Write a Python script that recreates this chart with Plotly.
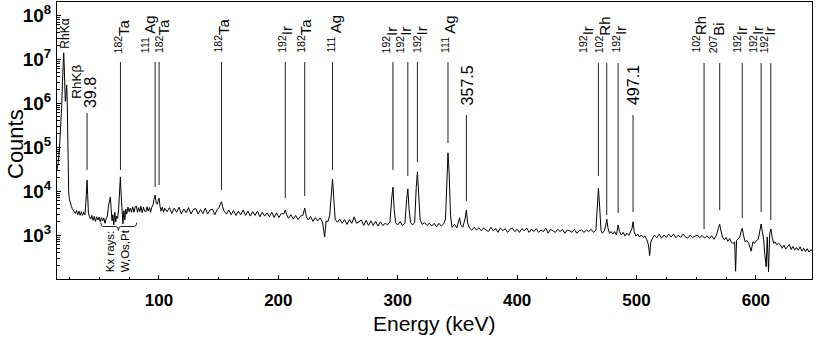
import plotly.graph_objects as go

# ---------------- spectrum ----------------
energy_kev = [
    14.5, 15.5, 16.5, 17.5, 18.5, 19.2, 19.7, 20.2, 20.6, 21.0,
    21.5, 21.9, 22.3, 22.7, 23.1, 23.5, 23.9, 24.4, 25.0, 25.8,
    26.6, 27.4, 28.2, 29.0, 30.0, 31.0, 32.0, 33.0, 34.0, 35.0,
    36.0, 37.0, 38.0, 38.8, 39.4, 39.8, 40.3, 40.9, 41.8, 42.8,
    43.8, 44.8, 45.8, 46.8, 47.8, 48.8, 49.8, 50.8, 51.8, 52.8,
    53.8, 54.8, 55.8, 56.8, 57.8, 58.6, 59.3, 60.0, 60.7, 61.4,
    62.2, 63.0, 63.8, 64.6, 65.4, 66.2, 67.0, 67.7, 68.4, 69.1,
    69.8, 70.6, 71.4, 72.2, 73.0, 74.0, 75.0, 76.0, 77.0, 78.0,
    79.0, 80.0, 81.0, 82.0, 83.0, 84.0, 85.0, 86.0, 87.0, 88.0,
    89.0, 90.0, 91.0, 92.0, 93.0, 94.0, 95.0, 95.8, 96.8, 97.6,
    98.5, 99.3, 100.1, 100.9, 101.8, 102.8, 103.8, 104.8, 106.8, 108.8,
    110.8, 112.8, 114.8, 116.8, 118.8, 120.8, 122.8, 124.8, 126.8, 128.8,
    130.8, 132.8, 134.8, 136.8, 138.8, 140.8, 142.8, 144.8, 146.8, 148.8,
    150.5, 151.5, 152.4, 153.3, 154.5, 156.5, 158.5, 160.5, 162.5, 164.5,
    166.5, 168.5, 170.5, 172.5, 174.5, 176.5, 178.5, 180.5, 182.5, 184.5,
    186.5, 188.5, 190.5, 192.5, 194.5, 196.5, 198.5, 200.5, 202.5, 204.5,
    205.8, 207.0, 208.5, 210.5, 212.5, 214.5, 216.5, 218.5, 220.5, 222.1,
    223.5, 225.0, 227.0, 229.0, 231.0, 233.0, 235.0, 237.0, 238.8, 240.0,
    241.5, 243.0, 244.4, 245.4, 246.4, 247.6, 249.5, 251.5, 253.5, 255.5,
    257.5, 259.5, 261.5, 263.5, 265.5, 267.5, 269.5, 271.5, 273.5, 275.5,
    277.5, 279.5, 281.5, 283.5, 285.5, 287.5, 289.5, 291.5, 293.5, 295.0,
    296.0, 297.0, 298.2, 300.0, 302.0, 304.0, 306.0, 307.5, 308.5, 309.5,
    310.8, 312.5, 314.2, 315.5, 316.5, 317.5, 318.8, 320.5, 322.5, 324.5,
    326.5, 328.5, 330.5, 332.5, 334.5, 336.5, 338.5, 340.0, 341.1, 342.1,
    343.1, 344.2, 345.5, 347.5, 349.5, 350.8, 351.8, 352.8, 354.5, 356.5,
    357.5, 358.5, 360.0, 362.0, 364.0, 366.0, 368.0, 370.0, 372.0, 374.0,
    376, 378, 380, 382, 384, 386, 388, 390, 392, 394,
    396, 398, 400, 402, 404, 406, 408, 410, 412, 414,
    416, 418, 420, 422, 424, 426, 428, 430, 432, 434,
    436, 438, 440, 442, 444, 446, 448, 450, 452, 454,
    456, 458, 460, 462, 464, 466, 467.1, 468.1, 469.1, 470.3,
    471.5, 473.0, 474.2, 475.1, 476.0, 477.3, 478.8, 480.2, 481.6, 483.2,
    484.6, 485.8, 487.2, 488.8, 490.4, 492.0, 493.6, 495.0, 496.2, 497.1,
    498.1, 499.5, 501.0, 502.5, 504.0, 505.5, 507.0, 508.5, 510.0, 511.0,
    512.0, 513.5, 515, 517, 519, 521, 523, 525, 527, 529,
    531, 533, 535, 537, 539, 541, 543, 545, 547, 549,
    551, 553, 555, 557, 559, 561, 563, 565, 567, 568.8,
    569.7, 570.6, 572.0, 573.5, 575.0, 576.5, 578.0, 579.5, 581.0, 582.2,
    583.0, 583.8, 585.0, 586.5, 587.6, 588.6, 589.6, 591.0, 592.5, 594.0,
    596.0, 597.5, 599.0, 600.5, 602.0, 603.3, 604.4, 605.4, 606.5, 607.5,
    608.6, 609.5, 610.6, 611.6, 612.6, 613.6, 614.8, 616.0, 617.5, 619.0,
    620.5, 622.0, 623.5, 625.0, 626.5, 628.0, 629.5, 631.0, 632.5, 634.0,
    635.5, 637.0, 638.5, 640.0, 641.5, 643.0, 644.5, 646.0, 647.0,
]
counts = [
    30000, 42000, 80000, 220000, 800000, 3000000, 8500000, 14000000, 8000000, 2500000,
    1100000, 1200000, 2000000, 2600000, 1400000, 200000, 25000, 9000, 6500, 5200,
    4500, 4000, 3600, 3500, 3100, 3600, 2900, 3500, 2800, 3400,
    2800, 3300, 2900, 5500, 14000, 17800, 8000, 3200, 2600, 2300,
    2800, 2150, 2650, 2050, 2600, 2200, 2550, 2000, 2500, 2100,
    2450, 1850, 2350, 2700, 4800, 6800, 7300, 3800, 2100, 2900,
    1700, 3300, 2000, 2700, 2400, 3800, 10000, 21000, 7500, 3000,
    1800, 3600, 2200, 3900, 3000, 4300, 3400, 4100, 3300, 4400,
    3300, 4300, 4600, 3300, 4200, 3400, 4500, 3200, 4300, 3500,
    3400, 4400, 3500, 4200, 3300, 4300, 4800, 6500, 8100, 5500,
    5000, 6000, 6900, 4500, 3500, 4300, 3300, 4100, 3400, 4200,
    3100, 4100, 3300, 4300, 3000, 3900, 3200, 4200, 3000, 3800,
    4000, 3000, 3800, 3100, 4100, 3000, 3700, 3900, 2900, 3800,
    4300, 5200, 5700, 4400, 3500, 3000, 3700, 2900, 3600, 2800,
    3500, 2900, 3700, 2800, 3500, 2700, 3400, 2800, 3500, 2600,
    3300, 2700, 3200, 2600, 3300, 2500, 3200, 2500, 3100, 3000,
    3700, 2900, 2400, 2900, 2300, 2800, 2250, 2700, 2800, 4100,
    2600, 2200, 2650, 2050, 2500, 2100, 2450, 1950, 900, 2100,
    2000, 2800, 9000, 18700, 7000, 2300, 1950, 2300, 1850, 2250,
    1750, 2250, 1850, 2600, 1850, 2050, 2200, 1650, 2150, 1650,
    2100, 1650, 2050, 1600, 2000, 1650, 1850, 1700, 2000, 7000,
    12300, 4000, 1900, 1700, 2000, 1650, 1850, 6500, 11200, 3800,
    1900, 1700, 1950, 12000, 27500, 9000, 2200, 1750, 1900, 1650,
    1850, 1600, 1850, 1550, 1850, 1600, 1800, 2300, 30000, 74000,
    25000, 2800, 1500, 1750, 1450, 1900, 2470, 1700, 1500, 2400,
    3700, 1900, 1450, 1300, 1500, 1300, 1450, 1250, 1450, 1300,
    1200, 1500, 1250, 1400, 1150, 1450, 1250, 1400, 1150, 1350,
    1450, 1200, 1350, 1150, 1400, 1250, 1450, 1150, 1350, 1200,
    1400, 1150, 1300, 1200, 1450, 1100, 1350, 1250, 1150, 1350,
    1200, 1350, 1100, 1300, 1250, 1150, 1350, 1100, 1250, 1300,
    1150, 1300, 1200, 1350, 1150, 1300, 5000, 11500, 4500, 1250,
    1100, 1250, 1600, 2300, 1500, 1100, 1200, 1050, 1200, 1000,
    1690, 1200, 1000, 1150, 950, 1100, 980, 1150, 1400, 2000,
    1200, 950, 1050, 900, 1000, 880, 950, 800, 600, 340,
    700, 850, 1000, 870, 1050, 850, 1000, 880, 1050, 900,
    1050, 870, 1000, 880, 1050, 900, 850, 1000, 880, 950,
    1000, 870, 980, 850, 950, 830, 960, 800, 1000, 1500,
    1750, 1300, 900, 780, 880, 720, 830, 680, 650, 700,
    150, 750, 800, 900, 1200, 1420, 1000, 700, 750, 650,
    430, 700, 650, 750, 800, 1300, 1780, 1200, 800, 350,
    190, 900, 146, 1100, 1370, 900, 650, 700, 600, 650,
    600, 500, 590, 480, 560, 610, 470, 550, 460, 520,
    450, 540, 430, 500, 420, 490, 410, 460, 450,
]
assert len(energy_kev) == len(counts)

# ---------------- peak identifications ----------------
peak_energy = [39.8, 67.75, 96.8, 100.1, 152.4, 205.8, 222.1, 245.4, 295.96, 308.46,
               316.5, 342.1, 357.5, 468.07, 475.06, 484.6, 497.1, 556.6, 569.7, 588.6,
               604.4, 612.5]
peak_label = ["39.8", "<sup>182</sup>Ta", "<sup>111</sup> Ag", "<sup>182</sup>Ta", "<sup>182</sup>Ta",
              "<sup>192</sup>Ir", "<sup>182</sup>Ta", "<sup>111</sup> Ag", "<sup>192</sup>Ir", "<sup>192</sup>Ir",
              "<sup>192</sup>Ir", "<sup>111</sup> Ag", "357.5", "<sup>192</sup>Ir", "<sup>102</sup>Rh",
              "<sup>192</sup>Ir", "497.1", "<sup>102</sup>Rh", "<sup>207</sup>Bi", "<sup>192</sup>Ir",
              "<sup>192</sup>Ir", "<sup>192</sup>Ir"]
xray_energy = [20.2, 22.7]
xray_label = ["RhKα", "RhKβ"]

y_tick_vals = [1e3, 1e4, 1e5, 1e6, 1e7, 1e8]
y_tick_text = ["10<sup>3</sup>", "10<sup>4</sup>", "10<sup>5</sup>", "10<sup>6</sup>",
               "10<sup>7</sup>", "10<sup>8</sup>"]
x_tick_vals = [100, 200, 300, 400, 500, 600]

# ---------------- styling / placement (pixels in the 817x339 frame) ----------------
W, H = 817, 339
ML, MR, MT, MB = 57, 5, 2, 60
PLOT_H = H - MT - MB


def ypaper(ypx):
    return (H - MB - ypx) / PLOT_H


line_top_px = [113, 62, 62, 62, 62, 62, 62, 62, 62, 62, 62, 62, 115, 63, 63, 63, 115, 63, 63, 63, 63, 63]
line_bot_px = [170, 170, 187, 185, 190, 198, 196, 170, 170, 176, 162, 143, 201, 176, 215, 213, 212, 229,
               210, 218, 212, 220]
text_bot_px = [110, 55, 55, 55, 55, 55, 55, 55, 55, 55, 55, 55, 107, 55, 55, 55, 107, 55, 55, 55, 55, 55]
text_shift = [3.5, 1, -7, 3, 0, 0, -1, 1, -3, -4, 3, 0, 2, -12, -4, 1, 1, -5, -3, -2, -5, -3]
xray_bot_px = [51, 101]
xray_shift = [1, 10]
xray_size = [12, 13.5]

FONT = "Liberation Sans, Arial, Helvetica, sans-serif"

fig = go.Figure()
fig.add_trace(go.Scatter(x=energy_kev, y=counts, mode="lines",
                         line=dict(color="black", width=1), hoverinfo="skip"))

shapes = []
annotations = []
for e, lab, lt, lb, tb, sh in zip(peak_energy, peak_label, line_top_px, line_bot_px, text_bot_px, text_shift):
    shapes.append(dict(type="line", xref="x", yref="paper", x0=e, x1=e,
                       y0=ypaper(lt), y1=ypaper(lb), line=dict(color="#222", width=1)))
    numeric = not lab.startswith("<sup>")
    annotations.append(dict(x=e, y=ypaper(tb), xref="x", yref="paper", text=lab, textangle=-90,
                            showarrow=False, xanchor="center", yanchor="bottom", xshift=sh,
                            font=dict(family=FONT, size=16 if numeric else 15, color="black")))

for e, lab, tb, sh, fs in zip(xray_energy, xray_label, xray_bot_px, xray_shift, xray_size):
    annotations.append(dict(x=e, y=ypaper(tb), xref="x", yref="paper", text=lab, textangle=-90,
                            showarrow=False, xanchor="center", yanchor="bottom", xshift=sh,
                            font=dict(family=FONT, size=fs, color="black")))

# Kx rays brace
bx0, bx1, bxc = 51.3, 81.3, 66.0
yt, ym, yb = ypaper(222.5), ypaper(226.5), ypaper(230.5)
path = (f"M {bx0},{yt} Q {bx0},{ym} {bx0+2},{ym} L {bxc-2},{ym} Q {bxc},{ym} {bxc},{yb} "
        f"Q {bxc},{ym} {bxc+2},{ym} L {bx1-2},{ym} Q {bx1},{ym} {bx1},{yt}")
shapes.append(dict(type="path", xref="x", yref="paper", path=path, line=dict(color="#222", width=1)))
annotations.append(dict(x=65.5, y=ypaper(274), xref="x", yref="paper", text="Kx rays:<br>W,Os,Pt",
                        textangle=-90, showarrow=False, xanchor="center", yanchor="bottom", align="left",
                        font=dict(family=FONT, size=11.5, color="black")))

# axis titles
annotations.append(dict(x=0, y=ypaper(144), xref="paper", yref="paper", text="Counts", textangle=-90,
                        showarrow=False, xanchor="center", yanchor="middle", xshift=15 - ML,
                        font=dict(family=FONT, size=22, color="black")))
annotations.append(dict(x=0.5, y=ypaper(323), xref="paper", yref="paper", text="Energy (keV)",
                        showarrow=False, xanchor="center", yanchor="middle",
                        font=dict(family=FONT, size=21, color="black")))

fig.update_layout(
    width=W, height=H,
    margin=dict(l=ML, r=MR, t=MT, b=MB, autoexpand=False),
    paper_bgcolor="white", plot_bgcolor="white",
    showlegend=False,
    shapes=shapes, annotations=annotations,
    font=dict(family=FONT, color="black"),
    xaxis=dict(range=[14.6, 647], tickmode="array", tickvals=x_tick_vals, automargin=False,
               ticks="inside", ticklen=4, tickcolor="black", showline=True, linecolor="black",
               linewidth=1, mirror=True, showgrid=False, zeroline=False,
               tickfont=dict(family=FONT, size=17, weight="bold", color="black"),
               ticklabelstandoff=6,
               minor=dict(tickmode="linear", tick0=0, dtick=25, ticks="inside", ticklen=2.5,
                          tickcolor="black", showgrid=False)),
    yaxis=dict(type="log", range=[2, 8.301], tickmode="array", tickvals=y_tick_vals, ticktext=y_tick_text,
               automargin=False,
               ticks="inside", ticklen=4, tickcolor="black", showline=True, linecolor="black",
               linewidth=1, mirror=True, showgrid=False, zeroline=False,
               tickfont=dict(family=FONT, size=19, weight="bold", color="black"),
               ticklabelstandoff=1,
               minor=dict(tickmode="linear", dtick="D1", ticks="inside", ticklen=2.5,
                          tickcolor="black", showgrid=False)),
)

fig.write_html("out.html", config={"displayModeBar": False, "staticPlot": True},
               post_script="document.body.style.margin='0';document.body.style.padding='0';"
                           "document.documentElement.style.overflow='hidden';")
